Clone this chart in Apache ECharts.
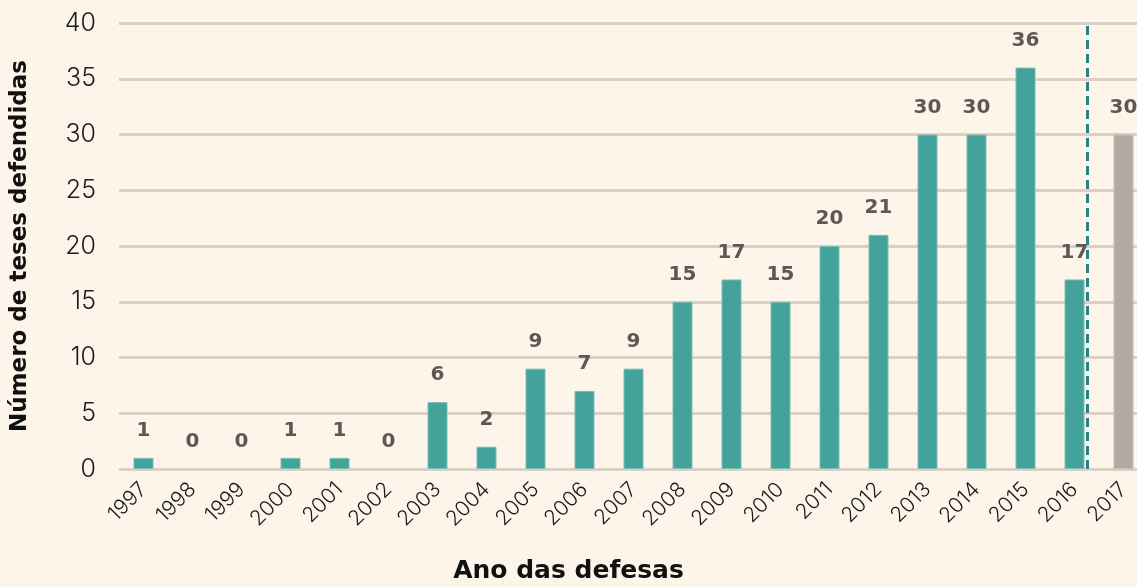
<!DOCTYPE html>
<html>
<head>
<meta charset="utf-8">
<script src="https://cdn.jsdelivr.net/npm/echarts@6/dist/echarts.min.js"></script>
<style>
  html, body { margin: 0; padding: 0; background: #fdf5ea; }
  #chart { width: 1137px; height: 587px; }
</style>
</head>
<body>
<div id="chart"></div>
<script>
const years = ['1997', '1998', '1999', '2000', '2001', '2002', '2003', '2004', '2005', '2006', '2007',
  '2008', '2009', '2010', '2011', '2012', '2013', '2014', '2015', '2016', '2017'];
const theses = [1, 0, 0, 1, 1, 0, 6, 2, 9, 7, 9, 15, 17, 15, 20, 21, 30, 30, 36, 17, 30];
const yTicks = [0, 5, 10, 15, 20, 25, 30, 35, 40];

const font = 'DejaVu Sans';
const thin = 'Inter';
const chart = echarts.init(document.getElementById('chart'));

const barData = theses.map((v, i) => ({
  value: v,
  itemStyle: i === years.length - 1
    ? { color: '#b1aaa2', borderColor: '#c4beb6', borderWidth: 1 } // 2017 partial year in grey
    : { color: '#43a39a', borderColor: '#7cbdb5', borderWidth: v > 0 ? 1 : 0 },
}));

chart.setOption({
  backgroundColor: '#fdf5ea',
  animation: false,
  title: {
    text: 'Ano das defesas',
    left: 'center',
    bottom: -2,
    textStyle: { fontFamily: font, fontWeight: 'bold', fontSize: 25, color: '#111' },
  },
  grid: { left: 119, top: 23, width: 1029, height: 446, outerBoundsMode: 'none', containLabel: false },
  xAxis: [
    {
      type: 'category',
      data: years,
      axisLine: { show: false },
      axisTick: { show: false },
      axisLabel: {
        rotate: 45,
        margin: 17,
        color: '#1a1a1a',
        fontFamily: thin,
        fontWeight: 300,
        fontSize: 21,
        interval: 0,
      },
    },
    { type: 'value', min: -0.5, max: 20.5, show: false },
  ],
  yAxis: {
    type: 'value',
    min: yTicks[0],
    max: yTicks[yTicks.length - 1],
    interval: 5,
    axisLine: { show: false },
    axisTick: { show: false },
    axisLabel: { color: '#1a1a1a', fontFamily: thin, fontWeight: 300, fontSize: 25, margin: 23 },
    splitLine: { lineStyle: { color: '#d9d1c5', width: 3 } },
    name: 'Número de teses defendidas',
    nameLocation: 'middle',
    nameGap: 87,
    nameTextStyle: { fontFamily: font, fontWeight: 'bold', fontSize: 23, color: '#111' },
  },
  series: [
    {
      type: 'bar',
      data: barData,
      barWidth: 20,
      label: {
        show: true,
        position: 'top',
        distance: 17,
        color: '#5e5855',
        fontFamily: font,
        fontWeight: 'bold',
        fontSize: 20,
      },
    },
    {
      type: 'scatter',
      xAxisIndex: 1,
      data: [],
      silent: true,
      markLine: {
        symbol: 'none',
        silent: true,
        label: { show: false },
        lineStyle: { color: '#2e7f8c', type: [9, 5], width: 3 },
        data: [{ xAxis: 19.27 }],
      },
    },
  ],
});
</script>
</body>
</html>
